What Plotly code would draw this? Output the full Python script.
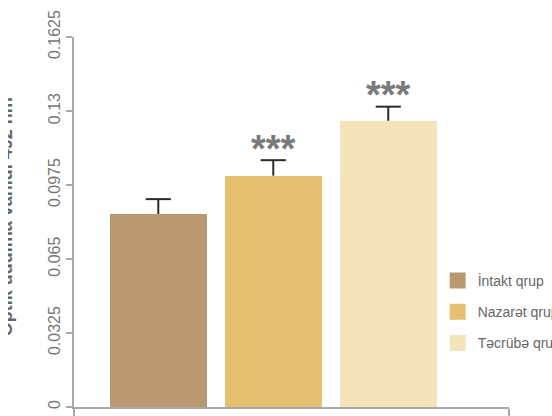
import plotly.graph_objects as go

# Group data: mean optical density at 492 nm with error bars
groups = ["İntakt qrup", "Nazarət qrupu", "Təcrübə qrupu"]
means = [0.0848, 0.1016, 0.1257]
errors = [0.0065, 0.0068, 0.0062]
signif = ["", "***", "***"]
colors = ["#BB9970", "#E5C070", "#F3E4B9"]

y_ticks = [0, 0.0325, 0.065, 0.0975, 0.13, 0.1625]
y_tick_text = ["0", "0.0325", "0.065", "0.0975", "0.13", "0.1625"]
x_range = [-0.733, 3.05]

FONT = "Liberation Sans, Arial, sans-serif"
AXIS = "#A8A8A8"
ERR = "#2B2B2B"

tops = [m + e for m, e in zip(means, errors)]

fig = go.Figure()

fig.add_trace(go.Bar(
    x=groups, y=means, width=0.841,
    marker=dict(color=colors, line=dict(width=0)),
    showlegend=False, hoverinfo="skip",
))

# upper-only error bars: whisker down to the bar top, cap at mean + error
fig.add_trace(go.Scatter(
    x=groups, y=tops, mode="markers", showlegend=False,
    marker=dict(symbol="line-ew", size=18, color=ERR,
                line=dict(color=ERR, width=2)),
    error_y=dict(type="data", array=[0] * len(errors), arrayminus=errors,
                 symmetric=False, visible=True,
                 color=ERR, thickness=2, width=0),
))

# legend entries (square swatches)
for name, c in zip(groups, colors):
    fig.add_trace(go.Scatter(
        x=[None], y=[None], mode="markers", name=name, legendgroup=name,
        marker=dict(symbol="square", size=16, color=c),
    ))

annotations = []
for g, t, s in zip(groups, tops, signif):
    if s:
        annotations.append(dict(
            x=g, y=t, xref="x", yref="y", text=s, showarrow=False,
            xanchor="center", yanchor="bottom", yshift=-11.5,
            font=dict(family=FONT, size=38, color="#7A7A7A", weight="bold"),
        ))

# y-axis title
annotations.append(dict(
    x=0, y=0.513, xref="paper", yref="paper", xshift=-68,
    text="Optik udulma vahidi 492 nm", textangle=-90, showarrow=False,
    xanchor="center", yanchor="middle",
    font=dict(family=FONT, size=18, color="#666666", weight="bold"),
))
# left page edge
annotations.append(dict(
    x=0, y=0.513, xref="paper", yref="paper", xshift=-74,
    text=" ", showarrow=False, width=8, height=270,
    xanchor="left", yanchor="middle", bgcolor="#FFFFFF",
    borderpad=0, borderwidth=0,
))

fig.update_layout(
    width=552, height=416,
    margin=dict(l=74, r=43, t=37, b=9, autoexpand=False),
    paper_bgcolor="#FFFFFF", plot_bgcolor="#FFFFFF",
    font=dict(family=FONT, color="#666666"),
    bargap=0,
    annotations=annotations,
    legend=dict(
        x=0.836, y=0.384, xanchor="left", yanchor="top",
        bgcolor="rgba(0,0,0,0)", tracegroupgap=10,
        font=dict(family=FONT, size=14, color="#666666"),
    ),
    xaxis=dict(
        type="category", range=x_range, showgrid=False, zeroline=False,
        showline=True, linecolor=AXIS, linewidth=2,
        tickmode="array", tickvals=x_range, ticktext=["", ""],
        ticks="outside", ticklen=8, tickwidth=2, tickcolor=AXIS,
        showticklabels=False,
    ),
    yaxis=dict(
        range=[0, 0.1625], showgrid=False, zeroline=False,
        showline=True, linecolor=AXIS, linewidth=2,
        tickmode="array", tickvals=y_ticks, ticktext=y_tick_text,
        ticks="outside", ticklen=6, tickwidth=2, tickcolor=AXIS,
        tickangle=-90, tickfont=dict(family=FONT, size=16, color="#777777"),
    ),
)

fig.write_html("out.html")
